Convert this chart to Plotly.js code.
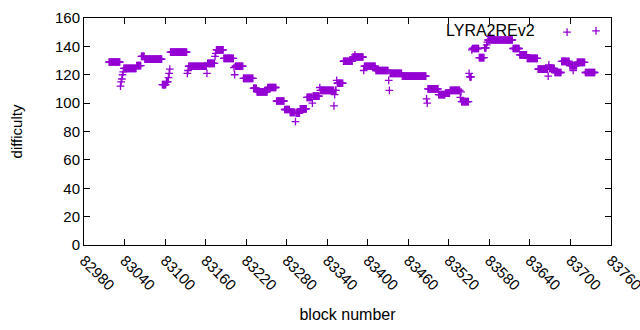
<!DOCTYPE html>
<html>
<head>
<meta charset="utf-8">
<script src="https://cdn.plot.ly/plotly-3.0.1.min.js"></script>
<style>html,body{margin:0;padding:0;background:#fff;}#chart{width:640px;height:330px;}</style>
</head>
<body>
<div id="chart"></div>
<script>
// Difficulty, as runs of consecutive blocks sharing a value
const blockStart = [83017,83034,83035,83036,83037,83038,83039,83058,83065,83070,83096,83102,83105,83106,83107,83108,83133,83134,83135,83162,83163,83174,83175,83176,83187,83202,83203,83204,83216,83231,83236,83252,83265,83277,83285,83293,83294,83300,83310,83318,83319,83329,83330,83350,83351,83352,83354,83355,83364,83378,83381,83382,83394,83395,83412,83431,83432,83433,83451,83487,83488,83489,83505,83515,83522,83537,83538,83539,83550,83551,83554,83555,83565,83573,83576,83577,83578,83581,83582,83615,83625,83636,83652,83667,83668,83669,83677,83687,83695,83696,83699,83704,83705,83710,83722];
const blockEnd   = [83033,83034,83035,83036,83037,83038,83057,83064,83069,83095,83101,83104,83105,83106,83107,83132,83133,83134,83161,83162,83173,83174,83175,83186,83201,83202,83203,83215,83230,83235,83251,83264,83276,83284,83292,83293,83299,83309,83317,83318,83328,83329,83349,83350,83351,83353,83354,83363,83377,83380,83381,83393,83394,83411,83430,83431,83432,83450,83486,83487,83488,83504,83514,83521,83536,83537,83538,83549,83550,83553,83554,83564,83572,83575,83576,83577,83580,83581,83614,83624,83635,83651,83666,83667,83668,83676,83686,83694,83695,83698,83703,83704,83709,83721,83736];
const difficulty = [129,112,115,117,120,122,124.5,126.5,133,131,113,115,118,121,124,136,121,123,126,121,128,133,135,137.5,131.5,125,120,126,117.5,110.5,108,111,101.5,95.5,93.5,87,93,96,104,100,105,111,109,98,106,109,116,114,129.5,132.5,134,132.5,123,126,123,116,109,121,119,103,100,110,106,107,109,104,108,101,121,118.5,137.5,138.5,132,139,141,143,144.5,147,144.5,138.5,134,131.5,124,119,127,124.5,121.6,129.4,150,129.4,126.5,123,126.5,128.7,121.6];

const seriesName = 'LYRA2REv2';
const xTicks = [82980,83040,83100,83160,83220,83280,83340,83400,83460,83520,83580,83640,83700,83760];
const yTicks = [0,20,40,60,80,100,120,140,160];

const xs = [], ys = [];
for (let i = 0; i < blockStart.length; i++) {
  for (let b = blockStart[i]; b <= blockEnd[i]; b++) { xs.push(b); ys.push(difficulty[i]); }
}

const color = '#9400D3';
const fontFam = '"Liberation Sans", Arial, sans-serif';
const mk = {symbol: 'cross-thin', size: 5.5, line: {color: color, width: 1.3}, color: color};

const traces = [
  {x: xs, y: ys, type: 'scatter', mode: 'markers', name: seriesName, showlegend: false, marker: mk, cliponaxis: false},
  // legend sample marker, placed on an invisible overlay axis in plot-fraction units
  {x: [0.9715], y: [0.943], xaxis: 'x2', yaxis: 'y2', type: 'scatter', mode: 'markers', showlegend: false, marker: mk}
];

const axisCommon = {
  showgrid: false, zeroline: false, showline: true, linecolor: '#000', linewidth: 1,
  mirror: 'allticks', ticks: 'inside', ticklen: 6, tickcolor: '#000',
  ticklabeloverflow: 'allow',
  tickfont: {family: fontFam, size: 15, color: '#000'}
};

const layout = {
  width: 640, height: 330,
  margin: {l: 84, r: 29, t: 18, b: 85},
  paper_bgcolor: '#fff', plot_bgcolor: '#fff',
  showlegend: false,
  xaxis: Object.assign({}, axisCommon, {
    range: [82980, 83760], tickvals: xTicks, ticktext: xTicks.map(String), tickangle: 45,
    title: {text: 'block number', font: {family: fontFam, size: 16, color: '#000'}, standoff: 16}
  }),
  yaxis: Object.assign({}, axisCommon, {
    range: [0, 160], tickvals: yTicks, ticktext: yTicks.map(String),
    title: {text: 'difficulty', font: {family: fontFam, size: 15, color: '#000'}, standoff: 28}
  }),
  xaxis2: {overlaying: 'x', range: [0, 1], visible: false, anchor: 'y2'},
  yaxis2: {overlaying: 'y', range: [0, 1], visible: false, anchor: 'x2'},
  annotations: [
    {xref: 'paper', yref: 'paper', x: 0.86, y: 0.943, xanchor: 'right', yanchor: 'middle',
     text: seriesName, showarrow: false, font: {family: fontFam, size: 16, color: '#000'}}
  ]
};

Plotly.newPlot('chart', traces, layout, {staticPlot: true, displayModeBar: false});
</script>
</body>
</html>
